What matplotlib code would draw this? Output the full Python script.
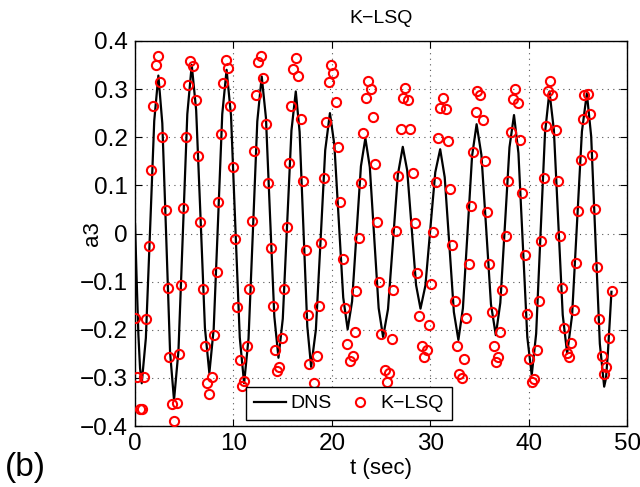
import matplotlib
matplotlib.use("Agg")
import matplotlib.pyplot as plt

# DNS signal a3(t) (one row per half cycle)
dns_t = [
    0.00, 0.17, 0.34, 0.51, 0.68,
    1.10, 1.53, 1.95, 2.37,
    2.77, 3.17, 3.56, 3.96,
    4.41, 4.86, 5.31, 5.76,
    6.21, 6.66, 7.10, 7.55,
    7.99, 8.43, 8.86, 9.30,
    9.75, 10.19, 10.64, 11.08,
    11.53, 11.98, 12.42, 12.87,
    13.30, 13.72, 14.15, 14.57,
    15.01, 15.45, 15.89, 16.33,
    16.72, 17.11, 17.50, 17.89,
    18.37, 18.85, 19.32, 19.80,
    20.25, 20.70, 21.15, 21.60,
    22.05, 22.50, 22.95, 23.40,
    23.85, 24.30, 24.75, 25.20,
    25.70, 26.20, 26.70, 27.20,
    27.65, 28.10, 28.55, 29.00,
    29.50, 30.00, 30.50, 31.00,
    31.46, 31.93, 32.39, 32.85,
    33.31, 33.78, 34.24, 34.70,
    35.19, 35.68, 36.16, 36.65,
    37.11, 37.58, 38.04, 38.50,
    38.95, 39.40, 39.85, 40.30,
    40.75, 41.20, 41.65, 42.10,
    42.55, 43.00, 43.45, 43.90,
    44.40, 44.90, 45.40, 45.90,
    46.34, 46.78, 47.22, 47.66,
    47.85, 48.03, 48.22, 48.40,
]
dns_a3 = [
    0.02, -0.10, -0.21, -0.28, -0.311,
    -0.217, 0.009, 0.234, 0.328,
    0.229, -0.009, -0.247, -0.346,
    -0.244, 0.002, 0.248, 0.350,
    0.256, 0.030, -0.196, -0.290,
    -0.198, 0.025, 0.248, 0.340,
    0.245, 0.015, -0.216, -0.311,
    -0.218, 0.008, 0.233, 0.326,
    0.240, 0.034, -0.172, -0.258,
    -0.177, 0.019, 0.214, 0.295,
    0.211, 0.009, -0.193, -0.277,
    -0.200, -0.014, 0.173, 0.250,
    0.184, 0.026, -0.133, -0.199,
    -0.141, 0.000, 0.140, 0.198,
    0.138, -0.009, -0.155, -0.215,
    -0.157, -0.018, 0.122, 0.180,
    0.131, 0.012, -0.107, -0.156,
    -0.108, 0.010, 0.127, 0.175,
    0.117, -0.023, -0.163, -0.221,
    -0.155, 0.003, 0.161, 0.227,
    0.163, 0.008, -0.147, -0.211,
    -0.144, 0.018, 0.179, 0.246,
    0.167, -0.024, -0.215, -0.294,
    -0.208, 0.001, 0.209, 0.295,
    0.215, 0.023, -0.169, -0.249,
    -0.170, 0.021, 0.212, 0.291,
    0.202, -0.014, -0.229, -0.318,
    -0.30, -0.25, -0.185, -0.121,
]

# K-LSQ samples (red circles)
klsq_t = [
    0.00, 0.17, 0.51, 0.68, 0.95, 1.09, 1.42, 1.63, 1.86, 2.10,
    2.37, 2.54, 2.78, 3.12, 3.32, 3.49, 3.73, 3.99, 4.30, 4.50,
    4.67, 4.91, 5.18, 5.42, 5.59, 5.93, 6.17, 6.37, 6.57, 6.88,
    7.11, 7.28, 7.52, 7.79, 8.06, 8.30, 8.47, 8.74, 8.98, 9.21,
    9.42, 9.65, 9.93, 10.16, 10.40, 10.67, 10.84, 11.11, 11.35, 11.59,
    11.86, 12.06, 12.28, 12.53, 12.80, 13.04, 13.28, 13.55, 13.79, 13.99,
    14.23, 14.46, 14.66, 14.90, 15.18, 15.41, 15.65, 15.85, 16.09, 16.36,
    16.60, 16.84, 17.04, 17.35, 17.55, 17.71, 18.22, 18.46, 18.70, 18.90,
    19.21, 19.41, 19.72, 19.92, 20.15, 20.39, 20.60, 20.83, 21.10, 21.34,
    21.58, 21.85, 22.10, 22.30, 22.46, 22.76, 22.97, 23.20, 23.48, 23.71,
    23.95, 24.15, 24.39, 24.56, 24.78, 25.00, 25.41, 25.58, 25.85, 26.08,
    26.25, 26.50, 26.76, 27.00, 27.27, 27.44, 27.78, 27.95, 28.22, 28.46,
    28.69, 28.89, 29.14, 29.37, 29.64, 29.88, 30.08, 30.24, 30.56, 30.76,
    31.00, 31.27, 31.57, 31.78, 32.01, 32.25, 32.52, 32.69, 32.93, 33.20,
    33.47, 33.64, 33.88, 34.11, 34.38, 34.62, 34.79, 35.06, 35.33, 35.57,
    35.74, 36.00, 36.31, 36.48, 36.69, 36.88, 37.08, 37.27, 37.67, 37.94,
    38.18, 38.38, 38.62, 38.89, 39.13, 39.36, 39.63, 39.87, 40.07, 40.31,
    40.58, 40.82, 41.06, 41.26, 41.50, 41.74, 41.94, 42.17, 42.41, 42.75,
    42.96, 43.19, 43.36, 43.63, 43.87, 44.11, 44.31, 44.61, 44.82, 45.05,
    45.29, 45.50, 45.66, 46.00, 46.24, 46.47, 46.75, 46.92, 47.15, 47.43,
    47.66, 47.87, 48.17, 48.44,
]
klsq_a3 = [
    -0.176, -0.298, -0.365, -0.365, -0.299, -0.178, -0.026, 0.132, 0.265, 0.349,
    0.368, 0.314, 0.201, 0.049, -0.114, -0.257, -0.354, -0.389, -0.351, -0.251,
    -0.107, 0.052, 0.201, 0.309, 0.359, 0.348, 0.278, 0.162, 0.023, -0.115,
    -0.233, -0.310, -0.334, -0.299, -0.210, -0.079, 0.066, 0.206, 0.312, 0.361,
    0.343, 0.264, 0.138, -0.011, -0.153, -0.262, -0.316, -0.306, -0.234, -0.115,
    0.027, 0.172, 0.288, 0.357, 0.369, 0.323, 0.228, 0.104, -0.031, -0.151,
    -0.241, -0.285, -0.278, -0.218, -0.116, 0.014, 0.147, 0.264, 0.341, 0.364,
    0.327, 0.238, 0.110, -0.034, -0.169, -0.270, -0.311, -0.255, -0.151, -0.019,
    0.116, 0.231, 0.314, 0.349, 0.333, 0.274, 0.179, 0.065, -0.052, -0.154,
    -0.230, -0.265, -0.255, -0.205, -0.119, -0.009, 0.104, 0.208, 0.282, 0.316,
    0.300, 0.242, 0.144, 0.023, -0.100, -0.208, -0.284, -0.308, -0.289, -0.219,
    -0.117, 0.005, 0.120, 0.217, 0.281, 0.302, 0.278, 0.217, 0.126, 0.022,
    -0.081, -0.171, -0.233, -0.256, -0.242, -0.190, -0.104, 0.004, 0.106, 0.198,
    0.260, 0.282, 0.258, 0.192, 0.093, -0.024, -0.140, -0.234, -0.291, -0.300,
    -0.260, -0.176, -0.064, 0.058, 0.169, 0.252, 0.295, 0.288, 0.236, 0.151,
    0.045, -0.064, -0.163, -0.233, -0.267, -0.256, -0.204, -0.117, -0.005, 0.110,
    0.210, 0.279, 0.300, 0.272, 0.194, 0.084, -0.045, -0.167, -0.260, -0.308,
    -0.302, -0.242, -0.140, -0.015, 0.116, 0.224, 0.295, 0.317, 0.288, 0.214,
    0.110, -0.005, -0.113, -0.197, -0.248, -0.257, -0.227, -0.158, -0.062, 0.047,
    0.153, 0.238, 0.287, 0.290, 0.248, 0.163, 0.051, -0.069, -0.178, -0.255,
    -0.291, -0.277, -0.216, -0.119,
]

x_ticks = [0, 10, 20, 30, 40, 50]
y_ticks = [-0.4, -0.3, -0.2, -0.1, 0.0, 0.1, 0.2, 0.3, 0.4]
y_tick_labels = ["\u22120.4", "\u22120.3", "\u22120.2", "\u22120.1", "0",
                 "0.1", "0.2", "0.3", "0.4"]

plt.rcParams["font.family"] = ["Liberation Sans", "DejaVu Sans"]
plt.rcParams["font.size"] = 14

fig = plt.figure(figsize=(6.4, 4.87), dpi=100)
ax = fig.add_axes([0.211, 0.125, 0.769, 0.791])

# matlab style dotted grid
ax.grid(True, linestyle=(0, (1, 4)), color="#555555", linewidth=0.8)
ax.set_axisbelow(True)

ax.plot(dns_t, dns_a3, color="black", linewidth=1.6, label="DNS", zorder=3)
ax.plot(klsq_t, klsq_a3, linestyle="none", marker="o", markersize=6.6,
        markerfacecolor="none", markeredgecolor="red", markeredgewidth=1.5,
        label="K\u2212LSQ", zorder=4)

ax.set_xlim(0, 50)
ax.set_ylim(-0.4, 0.4)
ax.set_xticks(x_ticks)
ax.set_yticks(y_ticks)
ax.set_yticklabels(y_tick_labels)
ax.tick_params(direction="in", length=5, width=0.8, top=True, right=True,
               labelsize=17.5, pad=5)
for s in ax.spines.values():
    s.set_linewidth(1.0)

ax.set_title("K\u2212LSQ", fontsize=14, pad=13)
ax.set_xlabel("t (sec)", fontsize=16, labelpad=2)
ax.set_ylabel("a3", fontsize=16)
ax.yaxis.set_label_coords(-0.066, 0.5)

leg = ax.legend(ncol=2, loc="lower left", bbox_to_anchor=(0.2256, 0.0156),
                borderaxespad=0, fancybox=False, framealpha=1,
                edgecolor="black", borderpad=0.4, handlelength=1.65,
                handletextpad=0.25, columnspacing=0.6, numpoints=1,
                fontsize=14)
leg.get_frame().set_linewidth(1.0)
leg.set_zorder(10)

fig.text(0.008, 0.022, "(b)", fontsize=24)

fig.savefig("out.png", dpi=100)
